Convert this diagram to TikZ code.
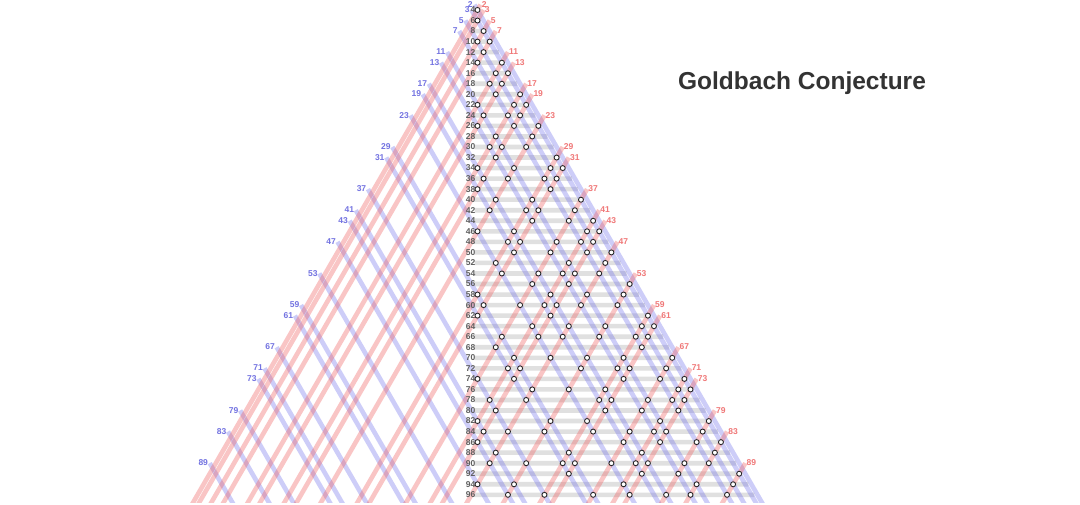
\documentclass[tikz,border=0pt]{standalone}
\usepackage{fontspec}
\setmainfont{Liberation Sans}
\usetikzlibrary{calc}
\definecolor{bluel}{RGB}{105,105,235}
\definecolor{redl}{RGB}{240,90,90}
\definecolor{bluet}{RGB}{115,115,225}
\definecolor{redt}{RGB}{240,120,120}
\definecolor{bargray}{RGB}{224,224,224}
\definecolor{numgray}{RGB}{95,95,95}
\definecolor{titlec}{RGB}{51,51,51}
\def\primes{2,3,5,7,11,13,17,19,23,29,31,37,41,43,47,53,59,61,67,71,73,79,83,89}
\begin{document}
\begin{tikzpicture}[
  bar/.style={line width=4.6pt, draw=bargray},
  blueline/.style={line width=4.6pt, draw=bluel, draw opacity=0.33},
  redline/.style={line width=4.6pt, draw=redl, draw opacity=0.35},
  bluelab/.style={text=bluet, font=\fontsize{8.5}{10}\selectfont\bfseries, inner sep=0pt, anchor=east},
  redlab/.style={text=redt, font=\fontsize{8.5}{10}\selectfont\bfseries, inner sep=0pt, anchor=west},
  numlab/.style={text=numgray, font=\fontsize{8.5}{10}\selectfont\bfseries, inner sep=0pt, anchor=east},
  dot/.style={circle, draw=black!85, fill=white, line width=0.85pt, inner sep=0pt, minimum size=5pt},
  title/.style={text=titlec, font=\fontsize{24.5}{28}\selectfont\bfseries, inner sep=0pt}
]
\useasboundingbox (0,0) rectangle (1080pt,-505pt);
\fill[white] (0,0) rectangle (1080pt,-505pt);
\node[title] (ttl) at (802pt,-83pt) {Goldbach Conjecture};
\begin{scope}[shift={(477.5pt,11.1pt)}, x={(3.043pt,-5.27pt)}, y={(-3.043pt,-5.27pt)}]
  \foreach \n in {4,6,...,96} {
    \coordinate (c\n) at ({\n/2},{\n/2});
    \coordinate (e\n) at ({\n-2.5},2.5);
    \draw[bar] ([xshift=-3pt]c\n) -- (e\n);
  }
\end{scope}
\begin{scope}
  \clip (0,0) rectangle (1080pt,-502pt);
  \begin{scope}[shift={(477.5pt,11.1pt)}, x={(3.043pt,-5.27pt)}, y={(-3.043pt,-5.27pt)}]
    \foreach \p in \primes {
      \coordinate (bs\p) at (1,\p);
      \coordinate (be\p) at ({100-\p},\p);
      \draw[blueline] (bs\p) -- (be\p);
    }
    \foreach \q in \primes {
      \coordinate (rs\q) at (\q,1);
      \coordinate (re\q) at (\q,{100-\q});
      \draw[redline] (rs\q) -- (re\q);
    }
  \end{scope}
\end{scope}
\begin{scope}[shift={(477.5pt,11.1pt)}, x={(3.043pt,-5.27pt)}, y={(-3.043pt,-5.27pt)}]
  \foreach \p in \primes {
    \node[bluelab, xshift=1.5pt, yshift=-5pt] (bl\p) at (0,\p) {\p};
    \node[redlab, xshift=-2pt, yshift=-5pt] (rl\p) at (\p,0) {\p};
  }
  \foreach \n in {4,6,...,96} {
    \node[numlab, xshift=-2pt] (nl\n) at (c\n) {\n};
  }
  \foreach \p in \primes {
    \foreach \q in \primes {
      \ifnum\p>\q\relax\else
        \ifnum\numexpr\p+\q\relax>96\relax\else
          \ifodd\numexpr\p+\q\relax\else
            \node[dot] (d\p-\q) at (\q,\p) {};
          \fi
        \fi
      \fi
    }
  }
\end{scope}
\end{tikzpicture}
\end{document}
